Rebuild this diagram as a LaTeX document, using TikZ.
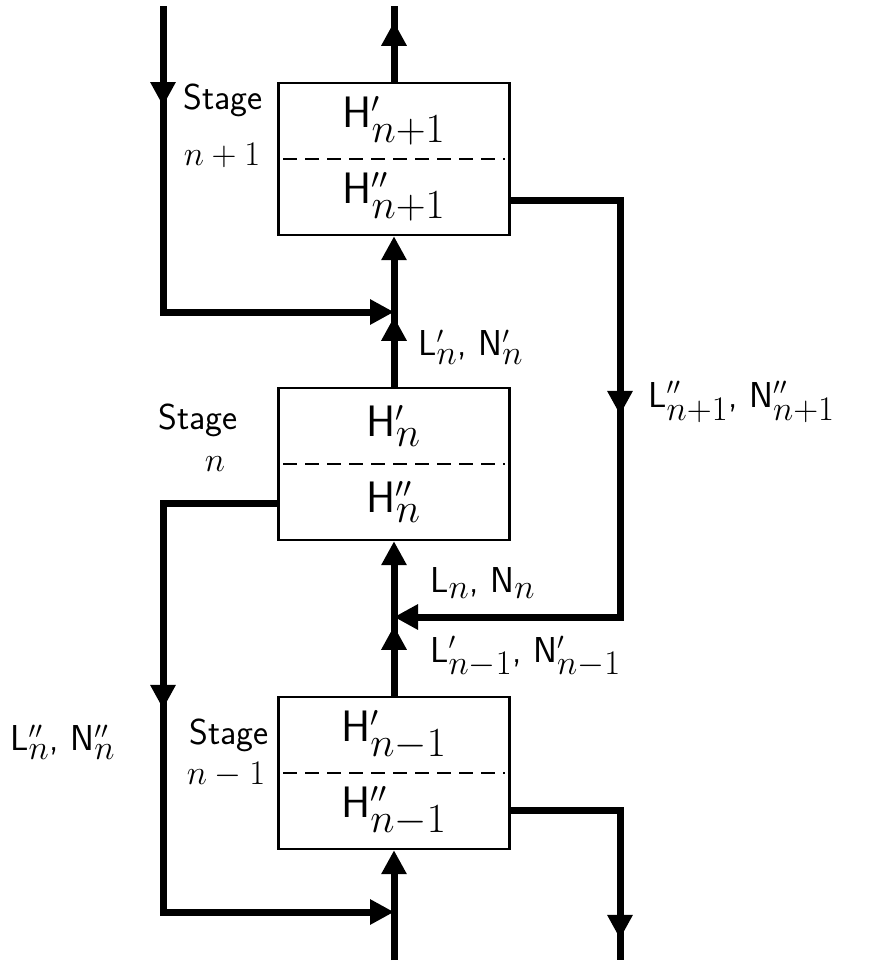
\documentclass[tikz,border=0pt]{standalone}
\usepackage{fontspec}
\usetikzlibrary{positioning, calc, arrows.meta, decorations.markings}
\newcommand{\lo}[1]{_{\textstyle #1}}

\begin{document}
\begin{tikzpicture}[
    x=0.5pt, y=-0.5pt,
    stagebox/.style={rectangle, draw, line width=1.2pt, minimum width=115.5pt, minimum height=76pt, inner sep=0pt},
    pipe/.style={line width=3.5pt},
    tip/.style={-{Triangle[length=12pt,width=12pt]}},
    midarrow/.style={postaction={decorate}, decoration={markings, mark=at position #1 with {\arrow{Triangle[length=12pt,width=12pt]}}}},
    half/.style={font=\fontsize{22}{24}\selectfont, inner sep=0pt},
    lbl/.style={font=\fontsize{18}{20}\selectfont\sffamily, inner sep=0pt}
]
\useasboundingbox (0,0) rectangle (871,965);

\node[stagebox] (ntop) at (394,159) {};
\node[stagebox] (nmid) at (394,464) {};
\node[stagebox] (nbot) at (394,773) {};

\foreach \n/\s in {ntop/{n{+}1}, nmid/n, nbot/{n{-}1}} {
    \draw[line width=1.2pt, dash pattern=on 7pt off 4pt] ([xshift=3pt]\n.west) -- ([xshift=-3pt]\n.east);
    \node[half] at ([yshift=19pt]\n.center) {$\mathsf{H}'\lo{\s}$};
    \node[half] at ([yshift=-19pt]\n.center) {$\mathsf{H}''\lo{\s}$};
}

\coordinate (topout) at (394,6);
\coordinate (feedtop) at (163,6);
\coordinate (j1) at (394,312);
\coordinate (rbend) at (620,617);
\coordinate (j2) at (394,617);
\coordinate (lbend) at (163,912);
\coordinate (j3) at (394,912);
\coordinate (botout) at (620,960);
\coordinate (botin) at (394,960);

\draw[pipe, midarrow=30pt] (ntop.north) -- (topout);
\draw[pipe, tip, midarrow=50pt] (feedtop) |- (j1);
\draw[pipe, tip, midarrow=35pt] (nmid.north) -- (ntop.south);
\draw[pipe, tip, midarrow=162pt] ([yshift=18pt]ntop.south east) -| (rbend) -- (j2);
\draw[pipe, tip, midarrow=35pt] (nbot.north) -- (nmid.south);
\draw[pipe, tip, midarrow=160pt] ([yshift=19pt]nmid.south west) -| (lbend) -- (j3);
\draw[pipe, midarrow=119pt] ([yshift=20pt]nbot.south east) -| (botout);
\draw[pipe, tip] (botin) -- (nbot.south);

\node[lbl] (s1) at (223,100) {Stage};
\node[lbl] (s1n) at (222,155) {$n+1$};
\node[lbl] (s2) at (198,420) {Stage};
\node[lbl] (s2n) at (215,464) {$n$};
\node[lbl] (s3) at (229,735) {Stage};
\node[lbl] (s3n) at (226,775) {$n-1$};

\node[lbl, anchor=west] (f1) at (418,347) {$\mathsf{L}'\lo{n}$, $\mathsf{N}'\lo{n}$};
\node[lbl, anchor=west] (f2) at (648,402) {$\mathsf{L}''\lo{n{+}1}$, $\mathsf{N}''\lo{n{+}1}$};
\node[lbl, anchor=west] (f3) at (430,583) {$\mathsf{L}\lo{n}$, $\mathsf{N}\lo{n}$};
\node[lbl, anchor=west] (f4) at (430,657) {$\mathsf{L}'\lo{n{-}1}$, $\mathsf{N}'\lo{n{-}1}$};
\node[lbl, anchor=west] (f5) at (10,742) {$\mathsf{L}''\lo{n}$, $\mathsf{N}''\lo{n}$};
\end{tikzpicture}
\end{document}
